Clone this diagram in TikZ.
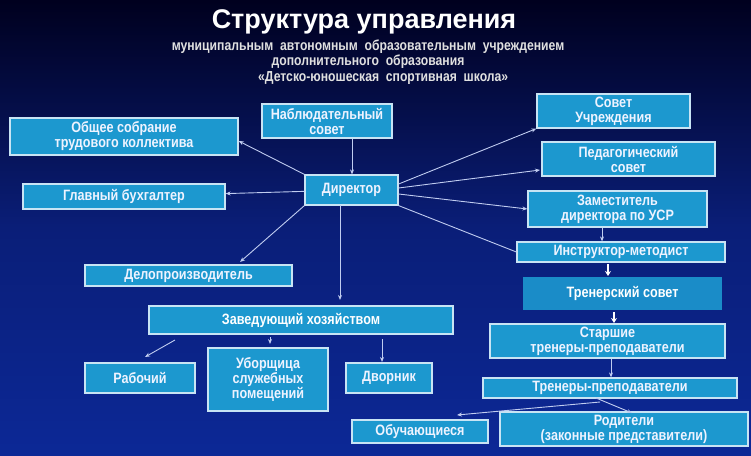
\documentclass[tikz,border=0pt]{standalone}
\usepackage{fontspec}
\setmainfont{Liberation Sans}
\newfontfamily\nar[FakeStretch=0.84]{Liberation Sans}
\usetikzlibrary{arrows.meta}
\definecolor{boxc}{HTML}{1C98CF}
\definecolor{boxd}{HTML}{1A8CC8}
\definecolor{edgec}{HTML}{C8E4F4}
\definecolor{txt}{HTML}{EEF3FF}
\definecolor{arr}{HTML}{C0CCF0}
\tikzset{
 box/.style={draw=edgec,line width=1.2pt,fill=boxc,inner sep=0pt,align=center,
   text=txt,font=\nar\bfseries\fontsize{15}{15}\selectfont},
 conn/.style={draw=arr,line width=0.9pt,-{Stealth[length=5pt,width=4pt]}},
 wconn/.style={draw=white,line width=1.6pt,-{Stealth[length=5pt,width=6pt]}}
}
\begin{document}
\begin{tikzpicture}[x=1pt,y=-1pt]
\shade[top color=black!80!blue!60!black,bottom color={rgb,255:red,12;green,40;blue,150},middle color={rgb,255:red,10;green,30;blue,120}] (0,0) rectangle (751,455);
\useasboundingbox (0,0) rectangle (751,455);
\node[text=white,font=\bfseries\fontsize{27}{27}\selectfont] (t) at (364,22) {Структура управления};
\node[text=black!12,font=\nar\bfseries\fontsize{14.5}{15.5}\selectfont,align=center] (st) at (368,62)
 {муниципальным\ \ автономным\ \ образовательным\ \ учреждением\\ дополнительного\ \ образования\\ \ \ \ \ \ \ \ \ \ «Детско-юношеская\ \ спортивная\ \ школа»};
\node[box,minimum width=130,minimum height=34] (nab) at (327,121) {Наблюдательный\\совет};
\node[box,minimum width=228,minimum height=37] (obs) at (124,136.5) {Общее собрание\\трудового коллектива};
\node[box,minimum width=202,minimum height=25] (buh) at (124,196.5) {Главный бухгалтер};
\node[box,minimum width=93,minimum height=30] (dir) at (351.5,190) {Директор};
\node[box,minimum width=207,minimum height=21] (del) at (188.5,275.5) {Делопроизводитель};
\node[box,minimum width=304,minimum height=28] (zav) at (301,320) {\textcolor{white}{Заведующий хозяйством}};
\node[box,minimum width=110,minimum height=30] (rab) at (140,378) {Рабочий};
\node[box,minimum width=120,minimum height=63] (ubo) at (268,379.5) {Уборщица\\служебных\\помещений};
\node[box,minimum width=86,minimum height=30] (dvo) at (389,378) {Дворник};
\node[box,minimum width=153,minimum height=34] (sov) at (613.5,111) {Совет\\Учреждения};
\node[box,minimum width=173,minimum height=34] (ped) at (628.5,159) {Педагогический\\совет};
\node[box,minimum width=179,minimum height=36] (zam) at (617.5,209) {Заместитель\\директора по УСР};
\node[box,minimum width=208,minimum height=20] (ins) at (621,252) {Инструктор-методист};
\node[box,draw=none,fill=boxd,minimum width=199,minimum height=33,text=white] (trs) at (622.5,293.5) {Тренерский совет};
\node[box,minimum width=235,minimum height=34] (sta) at (607.5,341) {Старшие\\тренеры-преподаватели};
\node[box,minimum width=254,minimum height=20] (tre) at (610,388) {Тренеры-преподаватели};
\node[box,minimum width=136,minimum height=23] (obu) at (420,431.5) {Обучающиеся};
\node[box,minimum width=248,minimum height=34] (rod) at (624,429) {Родители\\(законные представители)};
\draw[conn] (nab.south -| 352,0) -- (dir.north -| 352,0);
\draw[conn] (dir.north west) -- (obs.east |- 0,141);
\draw[conn] (dir) -- (buh);
\draw[conn] (dir.south west) -- (240,262);
\draw[conn] (340,205) -- (340,300);
\draw[conn] (dir.east) ++(0,-6) -- (sov.south west);
\draw[conn] (dir.east) ++(0,-2) -- (540,170);
\draw[conn] (dir.east) ++(0,4) -- (zam.west);
\draw[draw=arr,line width=0.9pt] (dir.south east) -- (ins.west);
\draw[conn] (zam.south -| 602,0) -- (ins.north -| 602,0);
\draw[wconn] (608,264) -- (608,276);
\draw[wconn] (614,312) -- (614,323);
\draw[conn] (sta.south -| 611,0) -- (tre.north -| 611,0);
\draw[conn] (600,402) -- (457,415);
\draw[conn] (596,398) -- (632,413);
\draw[conn] (175,340) -- (145,357);
\draw[conn] (270,337) -- (270,344);
\draw[conn] (382,339) -- (382,362);
\end{tikzpicture}
\end{document}
